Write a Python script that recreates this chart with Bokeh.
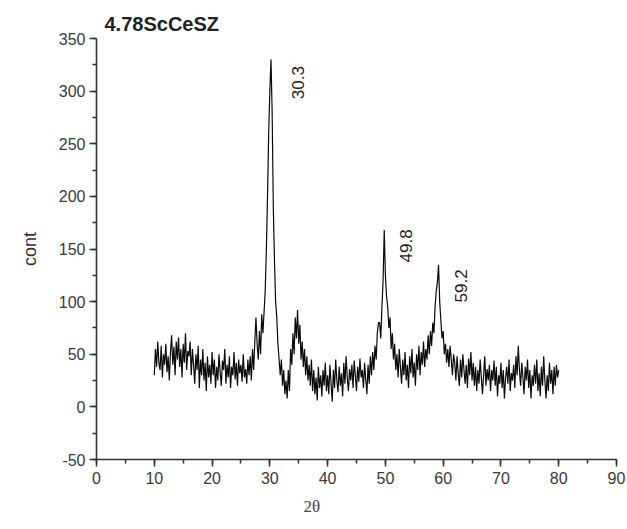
import numpy as np
from math import pi
from bokeh.plotting import figure
from bokeh.models import Range1d, SingleIntervalTicker, Label, Title, PrintfTickFormatter
from bokeh.embed import file_html
from bokeh.resources import INLINE

title_text = "4.78ScCeSZ"
x_label = "2θ"
y_label = "cont"

two_theta_start = 10.0
two_theta_step = 0.2

counts = [
    30, 55, 38, 62, 42,
    35, 58, 28, 50, 40,
    60, 33, 48, 25, 52,
    68, 40, 57, 30, 62,
    45, 66, 38, 55, 28,
    60, 42, 70, 35, 53,
    48, 62, 30, 55, 40,
    22, 50, 35, 58, 18,
    45, 30, 55, 25, 42,
    15, 48, 28, 40, 22,
    52, 30, 45, 18, 38,
    25, 50, 33, 20, 44,
    35, 55, 22, 40, 28,
    48, 18, 38, 30, 52,
    26, 42, 20, 45, 32,
    40, 24, 50, 28, 36,
    22, 45, 30, 48, 25,
    55, 35, 62, 85, 60,
    45, 72, 50, 88, 70,
    90, 110, 150, 200, 260,
    300, 330, 280, 190, 140,
    100, 85, 60, 45, 30,
    45, 20, 35, 12, 25,
    8, 35, 15, 55, 40,
    70, 50, 85, 65, 92,
    60, 78, 45, 62, 38,
    55, 30, 48, 25, 40,
    20, 45, 15, 35, 12,
    28, 6, 38, 18, 30,
    10, 35, 20, 42, 15,
    30, 12, 40, 22, 5,
    35, 18, 45, 25, 14,
    38, 20, 32, 10, 42,
    22, 48, 28, 15, 36,
    25, 40, 18, 44, 30,
    15, 38, 24, 46, 28,
    35, 18, 42, 26, 12,
    40, 22, 48, 30, 52,
    35, 58, 45, 70, 80,
    80, 65, 95, 120, 168,
    125, 105, 95, 75, 85,
    55, 70, 45, 60, 35,
    50, 28, 55, 38, 22,
    45, 30, 52, 25, 40,
    18, 48, 32, 55, 28,
    42, 20, 50, 35, 58,
    30, 52, 40, 62, 38,
    55, 45, 68, 50, 72,
    58, 80, 70, 95, 110,
    118, 135, 100, 82, 65,
    72, 50, 60, 42, 55,
    38, 58, 45, 30, 50,
    42, 25, 48, 32, 20,
    45, 28, 50, 35, 22,
    40, 18, 46, 30, 52,
    25, 42, 20, 38, 15,
    35, 22, 45, 28, 12,
    30, 48, 20, 36, 25,
    40, 15, 35, 25, 44,
    20, 38, 10, 30, 22,
    42, 18, 35, 8, 28,
    38, 22, 45, 15, 32,
    25, 40, 18, 48, 30,
    58, 35, 20, 42, 28,
    12, 38, 25, 45, 18,
    35, 8, 30, 20, 40,
    22, 45, 15, 32, 10,
    38, 20, 48, 25, 8,
    30, 15, 42, 22, 35,
    12, 38, 20, 40, 28,
    35,
]

peak_labels = ["30.3", "49.8", "59.2"]
x_ticks_interval = 10
y_ticks_interval = 50

two_theta = two_theta_start + two_theta_step * np.arange(len(counts))

p = figure(width=627, height=529, output_backend="svg", toolbar_location=None,
           x_range=Range1d(0, 90), y_range=Range1d(-50, 350),
           min_border_left=96, min_border_right=11, min_border_top=38, min_border_bottom=70)
p.outline_line_color = None
p.grid.visible = False
p.background_fill_color = "white"

p.line(two_theta, counts, line_color="#0a0a0a", line_width=1.2)

for ax, interval in ((p.xaxis[0], x_ticks_interval), (p.yaxis[0], y_ticks_interval)):
    ax.ticker = SingleIntervalTicker(interval=interval, num_minor_ticks=2)
    ax.formatter = PrintfTickFormatter(format="%d")
    ax.axis_line_color = "#333333"
    ax.axis_line_width = 1.6
    ax.major_tick_line_color = "#333333"
    ax.minor_tick_line_color = "#333333"
    ax.major_tick_line_width = 1.5
    ax.minor_tick_line_width = 1.5
    ax.major_tick_out = 7
    ax.major_tick_in = 0
    ax.minor_tick_out = 4
    ax.minor_tick_in = 0
    ax.major_label_text_font = "Liberation Sans"
    ax.major_label_text_font_size = "16px"
    ax.major_label_text_color = "#3a3a3a"

p.xaxis[0].major_label_standoff = 5
p.yaxis[0].major_label_standoff = 4

# y axis label
p.yaxis[0].axis_label = y_label
p.yaxis[0].axis_label_standoff = 16
p.yaxis[0].axis_label_text_font = "Liberation Sans"
p.yaxis[0].axis_label_text_font_size = "18px"
p.yaxis[0].axis_label_text_font_style = "normal"
p.yaxis[0].axis_label_text_color = "#333333"

# title
p.add_layout(Title(text=title_text, align="left", offset=8, standoff=8,
                   text_font="Liberation Sans", text_font_style="bold",
                   text_font_size="20px", text_color="#222222"), "above")
# x axis label as a left-aligned bottom title
p.add_layout(Title(text=x_label, align="left", offset=207, standoff=16,
                   text_font="Liberation Serif", text_font_style="normal",
                   text_font_size="17px", text_color="#444444"), "below")

# peak annotations
label_pos = [(34.8, 308), (53.6, 153), (63.1, 115)]
for txt, (lx, ly) in zip(peak_labels, label_pos):
    p.add_layout(Label(x=lx, y=ly, text=txt, angle=pi / 2,
                       text_font="Liberation Sans", text_font_size="17px",
                       text_color="#222222", text_align="center", text_baseline="middle"))

open("out.html", "w").write(file_html(p, INLINE))
